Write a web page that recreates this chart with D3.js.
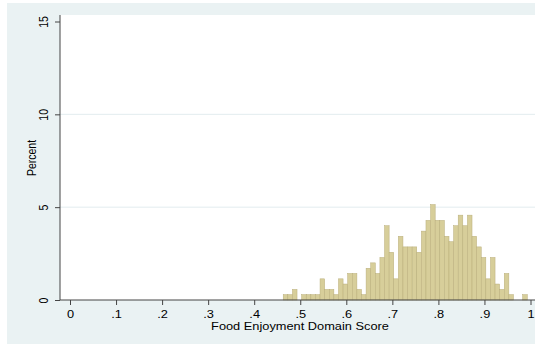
<!DOCTYPE html>
<html>
<head>
<meta charset="utf-8">
<script src="https://cdn.jsdelivr.net/npm/d3@7"></script>
<style>
  html, body { margin: 0; padding: 0; background: #ffffff; }
  svg { display: block; }
  text { font-family: "Liberation Sans", Arial, Helvetica, sans-serif; fill: #000; }
</style>
</head>
<body>
<script>
// Histogram of the food enjoyment domain score (bins of width 0.01).
const binStart = 0.463;
const binWidth = 0.01;
const percent = [
  0.29, 0.29, 0.57, 0, 0.29, 0.29, 0.29, 0.29, 1.14, 0.57,
  0.57, 0.29, 1.14, 0.86, 1.43, 1.43, 0.57, 0.29, 1.71, 2.00,
  1.43, 2.29, 4.00, 2.57, 1.14, 3.43, 2.86, 2.86, 2.86, 2.57,
  3.71, 4.29, 5.14, 4.29, 4.29, 3.43, 3.14, 4.00, 4.57, 4.00,
  4.57, 3.43, 2.86, 2.29, 1.14, 2.29, 0.86, 0.57, 1.43, 0.29,
  0, 0, 0.29
];
const xTicks = [0, 0.1, 0.2, 0.3, 0.4, 0.5, 0.6, 0.7, 0.8, 0.9, 1];
const xTickLabels = ["0", ".1", ".2", ".3", ".4", ".5", ".6", ".7", ".8", ".9", "1"];
const yTicks = [0, 5, 10, 15];
const yGrid = [5, 10];
const xTitle = "Food Enjoyment Domain Score";
const yTitle = "Percent";

const W = 535, H = 344;
const stretch = 1.22;   // glyphs are drawn horizontally widened
const fontSize = 10.5;

const svg = d3.select("body").append("svg").attr("width", W).attr("height", H);

// graph region and plot region
svg.append("rect").attr("x", 7).attr("y", 3).attr("width", W - 7).attr("height", H - 3)
  .attr("fill", "#eaf2f3");
const plot = { left: 60, top: 15, right: W, bottom: 300 };
svg.append("rect").attr("x", plot.left).attr("y", plot.top)
  .attr("width", plot.right - plot.left).attr("height", plot.bottom - plot.top)
  .attr("fill", "#ffffff");

const x = d3.scaleLinear().domain([0, 1]).range([70, 530.5]);
const y = d3.scaleLinear().domain([0, 15]).range([300, 21.5]);

// horizontal grid
svg.append("g").selectAll("line").data(yGrid).join("line")
  .attr("x1", plot.left).attr("x2", plot.right)
  .attr("y1", d => y(d)).attr("y2", d => y(d))
  .attr("stroke", "#e2ecef").attr("stroke-width", 1);

// bars
const bins = percent.map((p, i) => ({ x0: binStart + i * binWidth, x1: binStart + (i + 1) * binWidth, p }));
svg.append("g").selectAll("rect").data(bins.filter(d => d.p > 0)).join("rect")
  .attr("x", d => x(d.x0))
  .attr("width", d => x(d.x1) - x(d.x0))
  .attr("y", d => y(d.p))
  .attr("height", d => y(0) - y(d.p))
  .attr("fill", "#d7ce9a")
  .attr("stroke", "#b9ae7a")
  .attr("stroke-width", 0.5);

// y axis
const yAxis = svg.append("g").attr("transform", `translate(${plot.left},0)`)
  .call(d3.axisLeft(y).tickValues(yTicks).tickSize(5).tickFormat(d3.format("d")));
yAxis.select(".domain").remove();
yAxis.selectAll(".tick line").attr("stroke", "#444");
yAxis.selectAll(".tick text")
  .attr("x", null).attr("dy", null)
  .attr("text-anchor", "middle")
  .attr("font-size", fontSize)
  .attr("transform", `translate(-12.5,0) scale(${stretch},1) rotate(-90)`);
svg.append("line").attr("x1", plot.left).attr("x2", plot.left)
  .attr("y1", plot.top).attr("y2", plot.bottom)
  .attr("stroke", "#444").attr("stroke-width", 1);

// x axis
const xAxis = svg.append("g").attr("transform", `translate(0,${plot.bottom})`)
  .call(d3.axisBottom(x).tickValues(xTicks).tickSize(5)
    .tickFormat((d, i) => xTickLabels[i]));
xAxis.select(".domain").remove();
xAxis.selectAll(".tick line").attr("stroke", "#444");
xAxis.selectAll(".tick text")
  .attr("y", 18).attr("dy", null)
  .attr("font-size", fontSize)
  .attr("transform", `scale(${stretch},1)`);
svg.append("line").attr("x1", plot.left).attr("x2", plot.right)
  .attr("y1", plot.bottom).attr("y2", plot.bottom)
  .attr("stroke", "#444").attr("stroke-width", 1);

// axis titles
svg.append("text")
  .attr("transform", `translate(300,329.5) scale(${stretch},1)`)
  .attr("text-anchor", "middle").attr("font-size", fontSize)
  .text(xTitle);
svg.append("text")
  .attr("transform", `translate(36,158) scale(${stretch},1) rotate(-90)`)
  .attr("text-anchor", "middle").attr("font-size", fontSize)
  .text(yTitle);
</script>
</body>
</html>
